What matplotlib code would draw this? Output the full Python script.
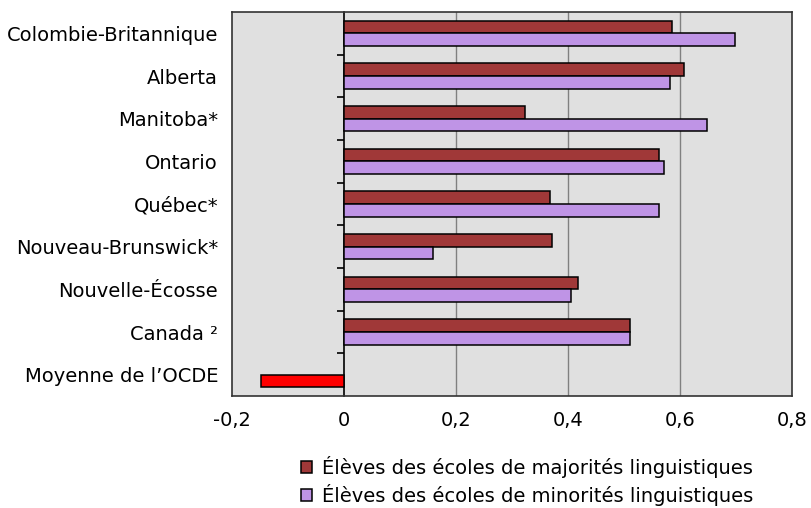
import numpy as np
import matplotlib.pyplot as plt
from matplotlib.ticker import FuncFormatter

plt.rcParams["font.family"] = ["DejaVu Sans"]

# données
provinces = ["Colombie-Britannique", "Alberta", "Manitoba*", "Ontario", "Québec*",
             "Nouveau-Brunswick*", "Nouvelle-Écosse", "Canada ²", "Moyenne de l’OCDE"]
majorite = [0.586, 0.608, 0.324, 0.562, 0.368, 0.372, 0.418, 0.511, np.nan]
minorite = [0.698, 0.582, 0.648, 0.571, 0.562, 0.159, 0.405, 0.511, np.nan]
ocde = [np.nan] * 8 + [-0.148]

lbl_maj = "Élèves des écoles de majorités linguistiques"
lbl_min = "Élèves des écoles de minorités linguistiques"

fig = plt.figure(figsize=(8.12, 5.08), dpi=100)
ax = fig.add_axes([232 / 812, 1 - 396 / 508, 560 / 812, 384 / 508])
ax.set_facecolor("#E0E0E0")

y = np.arange(len(provinces))
h = 0.3
ax.barh(y - h / 2, majorite, height=h, color="#A03838", edgecolor="black", linewidth=1.1, label=lbl_maj, zorder=3)
ax.barh(y + h / 2, minorite, height=h, color="#BF94E6", edgecolor="black", linewidth=1.1, label=lbl_min, zorder=3)
ax.barh(y + h / 2, ocde, height=h, color="#FF0000", edgecolor="black", linewidth=1.1, zorder=3)

ax.set_xlim(-0.2, 0.8)
ax.set_ylim(len(provinces) - 0.5, -0.5)
ax.set_xticks([-0.2, 0, 0.2, 0.4, 0.6, 0.8])
ax.xaxis.set_major_formatter(FuncFormatter(lambda v, p: "0" if abs(v) < 1e-9 else f"{v:.1f}".replace(".", ",")))
ax.tick_params(axis="x", length=0, labelsize=14, pad=11)
ax.set_yticks(y)
ax.set_yticklabels(provinces)
ax.tick_params(axis="y", length=0, labelsize=14, pad=10)

for v in [0.2, 0.4, 0.6]:
    ax.axvline(v, color="#808080", linewidth=1, zorder=1)

for s in ax.spines.values():
    s.set_color("#333333")
    s.set_linewidth(1.2)

# axe vertical à zéro avec graduations entre catégories
sec = ax.secondary_yaxis(0.2)
sec.set_yticks(np.arange(0.5, len(provinces) - 1, 1.0))
sec.set_yticklabels([])
sec.tick_params(axis="y", direction="out", length=5, width=1.2, color="black")
sec.spines["left"].set_color("black")
sec.spines["left"].set_linewidth(1.2)

fig.legend(loc="upper left", bbox_to_anchor=(293 / 812, 1 - 448 / 508), frameon=False,
           fontsize=14, handlelength=0.6, handleheight=0.6, handletextpad=0.5,
           labelspacing=0.3, borderaxespad=0)

fig.savefig("out.png", dpi=100, facecolor="white")
